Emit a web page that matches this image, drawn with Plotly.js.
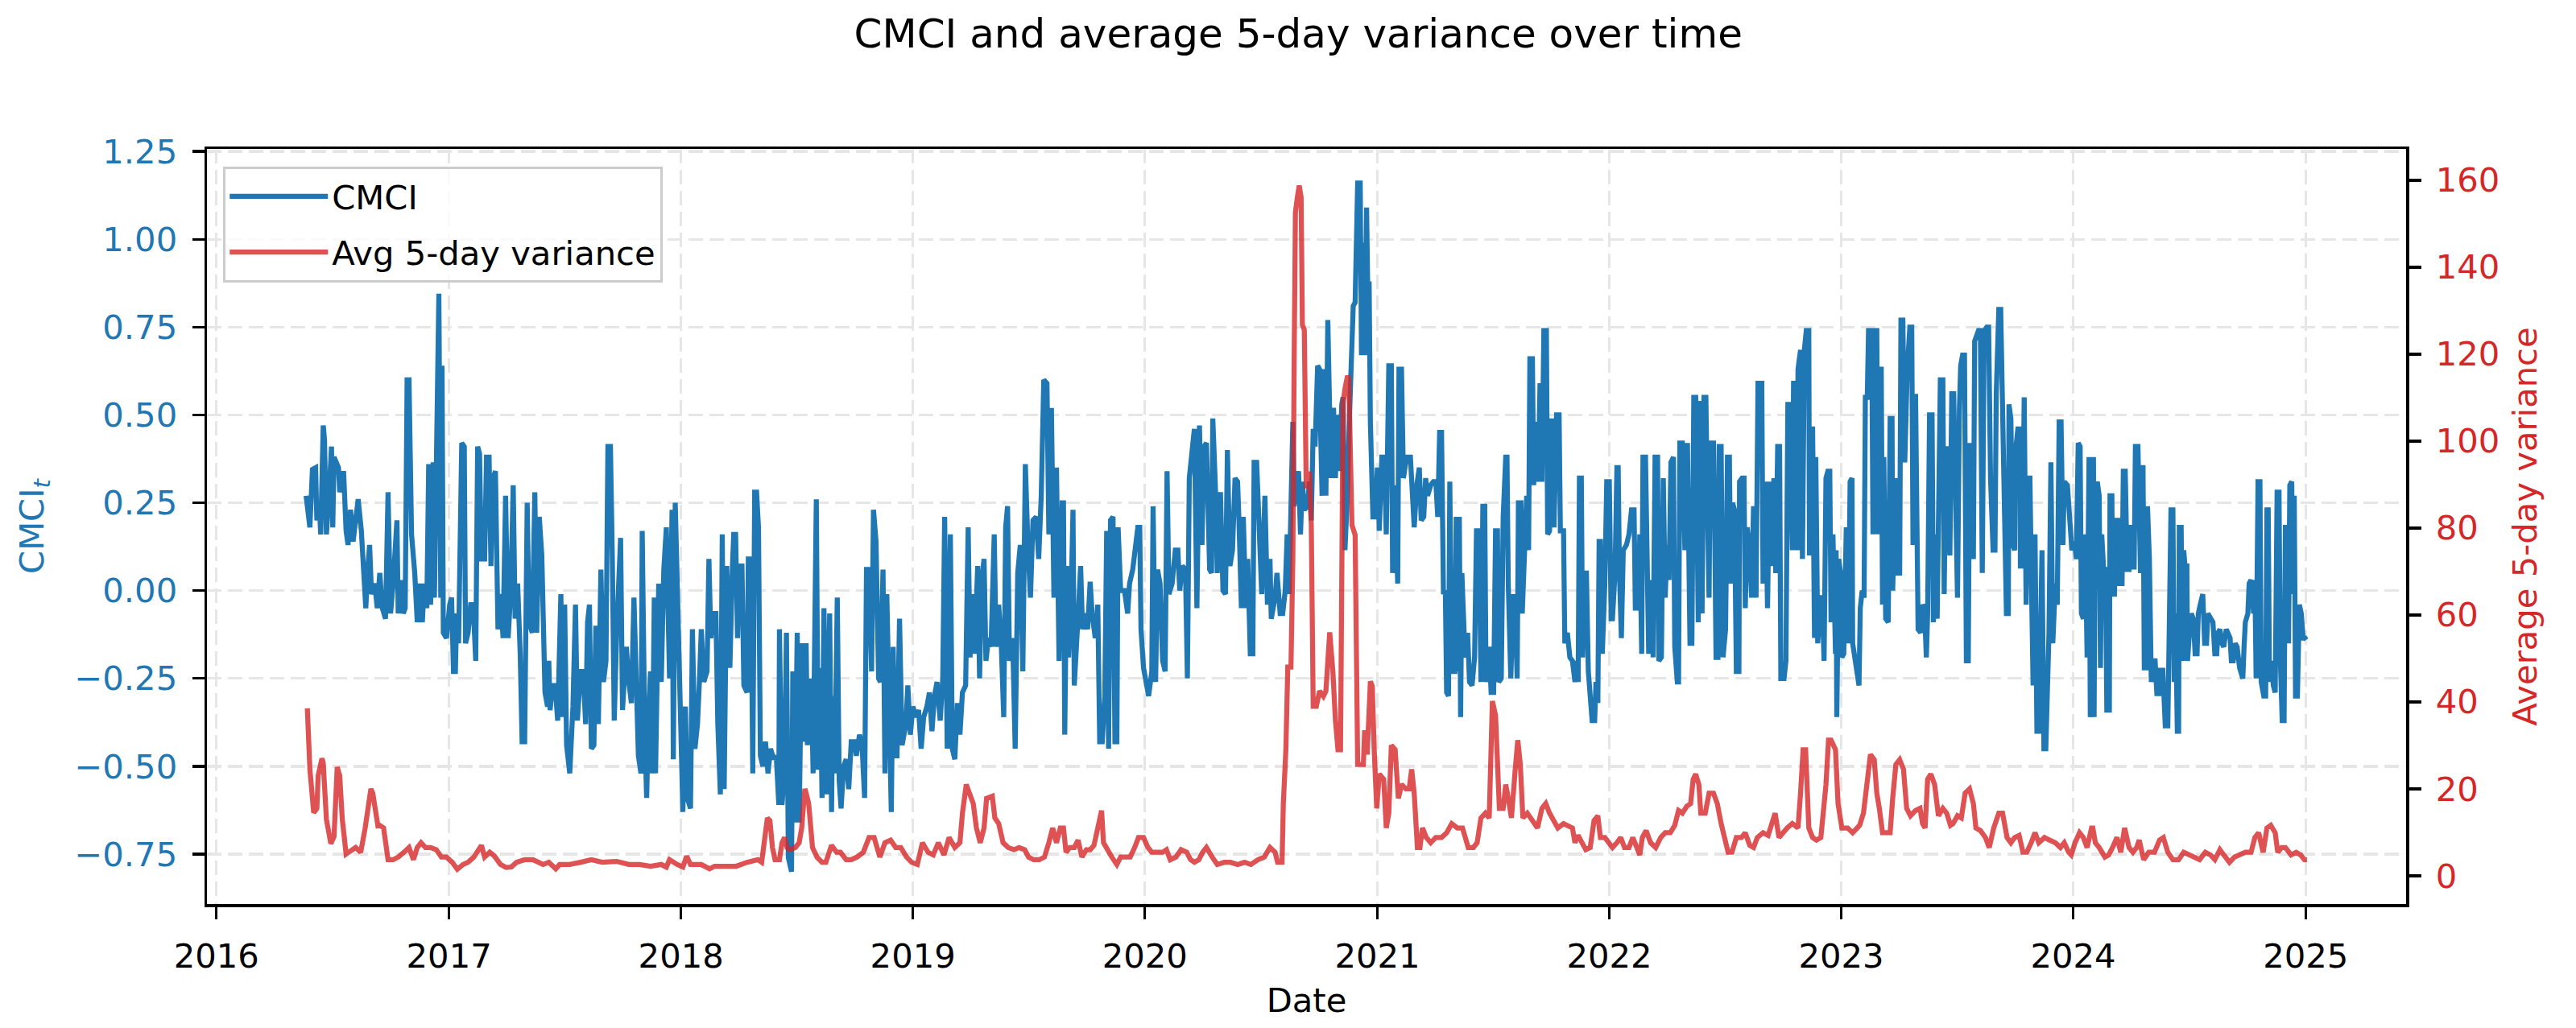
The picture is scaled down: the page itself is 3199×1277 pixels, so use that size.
<!DOCTYPE html>
<html><head><meta charset="utf-8">
<script src="https://cdn.plot.ly/plotly-3.0.1.min.js"></script>
<style>html,body{margin:0;padding:0;background:#fff}</style>
</head><body><div id="chart" style="width:3199px;height:1277px"></div>
<script>
// Data: [days since 2016-01-01, value]
const cmci2016 = [[141,0.27],[147,0.18],[151,0.345],[156,0.35],[158,0.2],[162,0.24],[164,0.16],[168,0.47],[170,0.43],[173,0.16],[177,0.27],[181,0.41],[183,0.18],[185,0.38],[192,0.35],[194,0.28],[200,0.34],[204,0.17],[207,0.13],[211,0.23],[215,0.14],[219,0.21],[223,0.26],[228,0.17],[232,0.02],[235,-0.05],[238,0.06],[241,0.13],[244,-0.01],[249,0.02],[253,-0.05],[257,0.05],[261,-0.05],[266,-0.08],[270,0.28],[274,-0.065],[278,0.02],[284,0.2],[286,-0.065],[291,0.03],[294,-0.065],[297,-0.05],[300,0.6],[303,0.6],[307,0.16],[312,0.05],[316,-0.09],[320,0.02],[324,-0.09],[327,0.02],[331,-0.05],[334,0.36],[337,-0.04],[341,0.365],[343,-0.02],[346,0.28],[350,0.845],[353,-0.02],[355,0.64],[357,-0.12],[362,-0.135],[367,-0.04],[370,-0.02],[373,-0.23],[376,-0.23],[378,-0.065],[381,-0.15],[386,0.42],[390,0.41],[392,-0.15],[396,-0.12],[400,-0.04],[404,-0.04],[408,-0.2],[411,0.41],[414,0.39],[417,0.09],[422,0.09],[425,0.38],[429,0.38],[432,0.07],[435,0.32],[439,0.34],[443,-0.11],[447,-0.01],[451,-0.135],[455,0.27],[459,-0.135],[463,-0.01],[467,0.30],[470,-0.08],[474,0.02],[478,-0.18],[481,-0.43],[485,-0.43],[489,0.25],[492,-0.09],[497,-0.12],[501,0.28],[504,-0.12],[508,0.21],[512,0.1],[517,-0.29],[521,-0.33]];
const cmci2017 = [[523,-0.2],[525,-0.34],[529,-0.27],[533,-0.27],[537,-0.37],[542,-0.01],[545,-0.36],[548,-0.04],[551,-0.44],[556,-0.52],[561,-0.33],[565,-0.04],[568,-0.37],[573,-0.23],[577,-0.23],[581,-0.38],[584,-0.09],[587,-0.04],[590,-0.45],[594,-0.44],[597,-0.1],[601,-0.38],[605,0.06],[609,-0.26],[613,-0.2],[616,0.41],[620,0.41],[623,0.09],[626,-0.37],[630,-0.11],[636,0.15],[639,-0.34],[645,-0.16],[649,-0.26],[653,-0.32],[657,-0.02],[660,-0.19],[664,-0.47],[668,-0.52],[670,0.17],[674,-0.4],[677,-0.59],[680,-0.36],[683,-0.23],[686,-0.52],[689,-0.02],[691,-0.52],[696,0.02],[700,-0.26],[704,0.06],[708,0.18],[713,-0.25],[717,0.23],[719,-0.48],[722,0.25],[725,0.02],[729,-0.37],[734,-0.63],[738,-0.33],[741,-0.59],[746,-0.62],[749,-0.11],[753,-0.45],[757,-0.38],[760,-0.26],[763,-0.11],[767,-0.26],[772,-0.23],[775,0.09],[778,-0.135],[782,-0.065],[786,-0.065],[789,-0.38],[793,-0.58],[796,0.16],[799,-0.565],[803,0.07],[808,-0.22],[812,0.07],[814,0.16],[817,0.16],[820,-0.135],[823,0.07],[827,0.07],[830,-0.27],[835,-0.29],[837,0.09],[841,0.09],[844,-0.52],[847,0.28],[850,0.28],[853,0.18],[856,-0.47],[860,-0.5],[864,-0.43],[868,-0.52],[872,-0.45],[877,-0.48],[881,-0.47],[885,-0.61],[886,-0.11],[890,-0.61],[894,-0.51],[897,-0.12],[900,-0.76],[905,-0.8],[907,-0.23],[910,-0.66],[914,-0.12],[917,-0.66],[921,-0.15],[926,-0.43]];
const cmci2018 = [[928,-0.15],[930,-0.44],[933,-0.33],[936,-0.25],[939,-0.52],[944,0.26],[947,-0.51],[950,-0.22],[953,-0.59],[956,-0.05],[961,-0.58],[965,-0.065],[968,-0.63],[970,-0.3],[973,-0.52],[977,-0.02],[980,-0.54],[983,-0.62],[987,-0.5],[991,-0.48],[995,-0.565],[999,-0.43],[1004,-0.43],[1007,-0.47],[1012,-0.41],[1016,-0.44],[1020,-0.59],[1023,0.06],[1027,0.06],[1031,-0.23],[1034,0.23],[1038,0.14],[1042,-0.25],[1045,-0.26],[1049,0.06],[1052,-0.52],[1055,-0.01],[1058,-0.26],[1062,-0.63],[1065,-0.16],[1068,-0.47],[1071,-0.47],[1075,-0.08],[1079,-0.44],[1082,-0.4],[1085,-0.38],[1088,-0.27],[1092,-0.41],[1096,-0.33],[1101,-0.36],[1105,-0.34],[1109,-0.45],[1113,-0.36],[1118,-0.33],[1122,-0.29],[1126,-0.4],[1130,-0.3],[1134,-0.26],[1139,-0.37],[1143,-0.25],[1146,0.21],[1150,-0.45],[1155,0.16],[1158,-0.45],[1162,-0.48],[1166,-0.32],[1170,-0.41],[1174,-0.29],[1179,-0.27],[1183,0.18],[1186,-0.19],[1189,-0.01],[1193,-0.18],[1198,0.07],[1201,-0.25],[1204,0.02],[1208,0.09],[1211,-0.2],[1215,-0.135],[1219,-0.16],[1224,0.16],[1227,-0.16],[1231,-0.04],[1235,-0.15],[1239,-0.36],[1242,0.18],[1245,0.24],[1248,-0.2],[1253,-0.135],[1257,-0.45],[1261,0.05],[1265,0.13],[1269,-0.23],[1273,0.36],[1277,0.13],[1281,-0.02],[1285,0.2],[1290,0.21],[1294,0.09],[1298,0.27],[1302,0.6],[1307,0.59],[1310,0.16],[1314,0.52],[1318,-0.02],[1322,0.35],[1326,-0.2],[1331,0.25]];
const cmci2019 = [[1333,0.25],[1335,-0.41],[1338,0.07],[1341,-0.19],[1345,-0.02],[1348,0.23],[1350,-0.27],[1354,-0.16],[1357,-0.04],[1360,0.07],[1363,-0.11],[1367,-0.065],[1371,-0.11],[1375,0.025],[1378,-0.065],[1383,-0.135],[1387,-0.04],[1390,-0.43],[1394,-0.43],[1398,-0.3],[1401,0.17],[1404,-0.45],[1407,0.2],[1411,0.21],[1414,-0.43],[1417,-0.43],[1419,0.18],[1423,0.0],[1429,0.0],[1434,-0.065],[1437,0.02],[1442,0.06],[1446,0.13],[1450,0.18],[1453,0.18],[1455,-0.11],[1459,-0.22],[1464,-0.26],[1467,-0.3],[1472,-0.23],[1474,0.24],[1478,-0.26],[1481,0.06],[1485,0.02],[1489,-0.2],[1493,-0.23],[1496,0.34],[1499,-0.01],[1504,0.02],[1509,0.115],[1513,0.115],[1516,0.0],[1520,0.07],[1525,0.06],[1528,-0.25],[1531,0.32],[1534,0.38],[1539,0.46],[1543,-0.05],[1547,0.47],[1551,0.13],[1554,0.41],[1558,0.42],[1563,0.06],[1566,0.05],[1568,0.49],[1572,0.30],[1575,0.05],[1580,0.28],[1584,0.0],[1588,-0.01],[1591,0.4],[1595,0.07],[1599,0.115],[1603,0.32],[1607,0.31],[1609,0.21],[1613,-0.05],[1616,0.21],[1620,-0.05],[1623,0.09],[1627,-0.18],[1631,-0.18],[1633,0.365],[1637,0.365],[1642,0.16],[1645,-0.01],[1650,0.27],[1654,-0.04],[1658,0.09],[1660,-0.08],[1666,-0.02],[1669,0.05],[1674,-0.065],[1678,-0.065],[1682,0.0],[1685,0.16],[1688,-0.01],[1691,0.2],[1694,0.48],[1696,0.24],[1700,0.30],[1703,0.34],[1706,0.16],[1709,0.31],[1712,0.23],[1717,0.24],[1720,0.31],[1723,0.2],[1726,0.46],[1729,0.41],[1733,0.64],[1736,0.63]];
const cmci2020 = [[1738,0.43],[1740,0.27],[1743,0.63],[1746,0.27],[1749,0.77],[1752,0.49],[1754,0.32],[1758,0.52],[1761,0.32],[1764,0.5],[1767,0.34],[1771,0.53],[1773,0.55],[1776,0.115],[1780,0.28],[1783,0.49],[1786,0.67],[1789,0.81],[1792,0.82],[1796,1.16],[1800,1.16],[1802,0.67],[1804,0.99],[1807,0.67],[1810,1.09],[1813,0.71],[1814,0.88],[1816,0.48],[1820,0.21],[1824,0.21],[1827,0.35],[1830,0.17],[1834,0.38],[1838,0.38],[1841,0.16],[1845,0.64],[1849,0.64],[1851,0.05],[1855,0.30],[1859,0.02],[1861,0.63],[1865,0.63],[1868,0.32],[1873,0.38],[1879,0.38],[1881,0.31],[1885,0.18],[1889,0.30],[1893,0.35],[1896,0.2],[1900,0.21],[1903,0.32],[1906,0.27],[1911,0.30],[1915,0.31],[1919,0.31],[1922,0.21],[1925,0.45],[1928,0.45],[1931,-0.01],[1934,0.0],[1936,-0.29],[1939,-0.3],[1941,0.31],[1944,-0.23],[1949,-0.23],[1951,0.21],[1954,-0.23],[1956,0.21],[1958,-0.36],[1960,0.05],[1965,-0.19],[1969,-0.12],[1972,-0.26],[1976,-0.27],[1980,-0.19],[1983,0.17],[1987,0.17],[1990,-0.26],[1993,0.24],[1996,0.24],[1998,-0.26],[2003,-0.16],[2006,-0.29],[2010,-0.29],[2013,0.17],[2016,0.17],[2018,-0.26],[2022,-0.25],[2025,0.21],[2029,0.38],[2031,0.38],[2033,0.02],[2037,-0.25],[2041,-0.01],[2044,-0.065],[2047,-0.25],[2049,0.25],[2053,0.25],[2055,-0.065],[2058,0.115],[2062,0.27],[2065,0.115],[2067,0.66],[2071,0.66],[2073,0.30],[2077,0.48],[2080,0.31],[2083,0.59],[2086,0.31],[2089,0.74],[2093,0.74],[2095,0.16],[2098,0.17],[2101,0.49],[2105,0.18],[2109,0.5],[2113,0.5],[2115,0.17],[2120,0.17],[2122,-0.15],[2126,-0.12],[2130,-0.19],[2134,-0.2],[2138,-0.26],[2141,-0.2]];
const cmci2021 = [[2143,-0.26],[2145,0.32],[2148,0.32],[2150,-0.19],[2153,0.05],[2156,0.05],[2159,-0.23],[2162,-0.32],[2165,-0.37],[2169,-0.37],[2171,-0.26],[2174,-0.32],[2176,0.14],[2178,0.14],[2181,-0.18],[2185,0.02],[2188,0.31],[2192,0.31],[2195,-0.08],[2197,-0.08],[2201,0.05],[2204,0.35],[2206,0.35],[2208,0.05],[2211,-0.135],[2214,0.115],[2219,0.13],[2223,0.16],[2227,0.23],[2231,0.23],[2233,-0.05],[2238,-0.05],[2240,0.16],[2243,-0.18],[2245,0.38],[2249,0.38],[2252,-0.16],[2254,-0.18],[2257,0.03],[2261,-0.19],[2264,0.38],[2268,0.38],[2270,-0.2],[2274,-0.19],[2277,0.32],[2280,-0.02],[2283,0.13],[2286,0.03],[2289,0.365],[2293,0.38],[2295,-0.16],[2299,-0.26],[2301,-0.26],[2303,0.42],[2307,0.42],[2311,0.115],[2315,0.42],[2319,-0.15],[2322,-0.15],[2325,0.55],[2328,0.55],[2332,-0.09],[2335,0.54],[2338,-0.065],[2341,0.55],[2344,0.55],[2346,0.30],[2349,-0.02],[2351,0.42],[2356,0.42],[2358,0.16],[2360,-0.19],[2363,-0.19],[2365,0.41],[2368,0.41],[2371,-0.19],[2375,-0.11],[2378,0.38],[2381,0.38],[2383,0.02],[2386,0.25],[2389,0.23],[2392,-0.23],[2396,-0.23],[2397,0.31],[2401,0.32],[2404,0.32],[2406,-0.05],[2409,0.18],[2413,0.115],[2416,-0.02],[2419,0.24],[2423,-0.02],[2426,0.59],[2432,0.59],[2434,0.02],[2438,0.31],[2441,-0.05],[2444,0.31],[2447,0.07],[2451,0.32],[2454,0.05],[2457,0.41],[2460,0.41],[2462,-0.25],[2467,-0.25],[2470,-0.2],[2473,0.53],[2476,0.53],[2480,0.115],[2482,0.59],[2485,0.59],[2488,0.115],[2489,0.63],[2493,0.685],[2496,0.09],[2499,0.685],[2502,0.74],[2506,0.74],[2507,0.1],[2509,0.46],[2512,0.46],[2515,-0.135],[2517,0.38],[2520,-0.15],[2525,-0.02],[2527,-0.02],[2530,-0.2],[2533,0.32],[2536,0.34],[2539,0.34],[2541,-0.09],[2544,0.16],[2548,-0.18]];
const cmci2023 = [[2549,0.115],[2550,-0.36],[2553,0.09],[2556,0.05],[2558,-0.19],[2561,-0.18],[2565,0.18],[2568,-0.15],[2571,0.31],[2574,0.32],[2575,-0.15],[2578,-0.19],[2581,-0.23],[2585,-0.27],[2587,-0.05],[2590,0.0],[2593,-0.02],[2595,0.55],[2598,0.55],[2600,0.74],[2605,0.74],[2607,0.16],[2610,0.74],[2613,0.74],[2615,0.16],[2617,0.63],[2620,0.63],[2622,-0.04],[2624,0.38],[2627,-0.08],[2631,-0.09],[2634,0.49],[2637,0.49],[2638,0.0],[2641,0.2],[2644,0.32],[2646,0.05],[2649,0.05],[2651,0.77],[2654,0.77],[2657,0.365],[2661,0.63],[2665,0.75],[2668,0.75],[2670,0.13],[2674,0.56],[2678,-0.11],[2682,-0.12],[2685,-0.04],[2688,-0.05],[2691,-0.19],[2693,-0.065],[2696,0.5],[2700,0.5],[2702,-0.09],[2705,0.16],[2708,-0.08],[2710,0.35],[2713,0.6],[2717,0.6],[2719,-0.01],[2722,0.39],[2725,0.41],[2728,0.1],[2731,0.56],[2734,0.56],[2737,0.24],[2740,-0.02],[2743,0.52],[2745,0.64],[2748,0.67],[2751,0.67],[2754,-0.2],[2757,-0.2],[2759,0.42],[2762,0.27],[2765,0.09],[2767,0.71],[2771,0.73],[2773,0.74],[2776,0.74],[2779,0.05],[2782,0.74],[2786,0.75],[2789,0.75],[2792,0.32],[2796,0.115],[2799,0.115],[2801,0.56],[2805,0.8],[2808,0.8],[2810,0.57],[2814,0.27],[2817,-0.065],[2820,-0.065],[2821,0.53],[2824,0.49],[2827,0.13],[2830,0.115],[2831,0.39],[2835,0.46],[2838,0.46],[2839,0.07],[2842,0.07],[2845,0.55],[2848,-0.04],[2851,0.32],[2854,0.32],[2856,0.07],[2859,-0.27],[2862,0.16],[2865,-0.4],[2868,-0.4],[2873,0.115],[2876,-0.45],[2879,-0.45],[2881,-0.315],[2884,-0.12],[2887,0.365],[2890,-0.15],[2894,0.02],[2897,-0.04],[2900,0.48],[2903,0.48],[2906,0.13],[2908,0.31],[2913,0.30],[2917,0.2],[2920,0.115],[2924,0.14],[2927,0.09],[2930,0.42],[2933,0.41],[2935,-0.065],[2938,-0.08],[2941,0.16],[2944,-0.19],[2947,0.38],[2949,-0.36],[2953,-0.16]];
const cmci2024 = [[2954,0.38],[2955,-0.36],[2957,0.30],[2960,0.31],[2963,0.27],[2965,-0.22],[2967,0.16],[2970,0.06],[2973,0.06],[2975,-0.34],[2979,-0.34],[2980,0.27],[2983,0.27],[2984,-0.01],[2987,-0.01],[2990,0.2],[2994,0.2],[2995,0.02],[2999,0.02],[3001,0.34],[3004,0.34],[3007,0.06],[3010,0.06],[3012,0.18],[3016,0.18],[3018,0.06],[3020,0.41],[3024,0.41],[3028,0.05],[3029,0.35],[3032,0.35],[3034,-0.22],[3037,-0.22],[3039,0.24],[3042,0.09],[3045,-0.26],[3048,-0.2],[3051,-0.2],[3054,-0.3],[3057,-0.22],[3060,-0.3],[3063,-0.22],[3067,-0.385],[3071,-0.385],[3073,0.02],[3076,0.23],[3079,0.23],[3081,-0.26],[3083,-0.065],[3086,-0.4],[3088,-0.4],[3089,0.18],[3092,0.18],[3094,-0.2],[3096,0.115],[3098,0.07],[3101,0.07],[3102,-0.2],[3105,-0.12],[3108,-0.065],[3111,-0.08],[3114,-0.18],[3117,-0.18],[3119,-0.065],[3122,-0.04],[3126,-0.01],[3129,-0.15],[3132,-0.15],[3134,-0.065],[3138,-0.08],[3142,-0.09],[3145,-0.18],[3148,-0.18],[3150,-0.12],[3153,-0.11],[3156,-0.15],[3159,-0.16],[3163,-0.11],[3166,-0.12],[3169,-0.135],[3171,-0.2],[3174,-0.2],[3177,-0.15],[3180,-0.16],[3184,-0.22],[3187,-0.25],[3189,-0.25],[3191,-0.16],[3193,-0.09],[3197,-0.065],[3199,0.02],[3202,0.03],[3206,-0.065],[3208,0.03],[3210,-0.25],[3213,0.31],[3216,0.31],[3218,-0.26],[3222,-0.3],[3225,-0.3],[3227,0.23],[3229,0.23],[3231,-0.26],[3233,-0.2],[3235,-0.22],[3237,-0.27],[3240,-0.29],[3243,0.28],[3246,0.28],[3248,-0.19],[3251,-0.37],[3254,-0.37],[3256,0.18],[3259,0.18],[3261,-0.15],[3263,0.30],[3266,0.31],[3268,-0.01],[3270,0.27],[3272,-0.3],[3275,-0.3],[3278,-0.04],[3281,-0.065],[3284,-0.135],[3287,-0.135],[3289,-0.14]];

const var2016 = [[143,38.5],[147,24.5],[153,14.5],[158,15.5],[160,23],[166,27],[168,26],[173,13],[180,7.4],[185,9],[190,25],[194,23],[198,13],[204,5],[208,5.4],[219,6.5],[227,5.4],[234,11],[243,20],[246,19],[254,11.5],[257,11.6],[263,11],[270,3.7],[278,3.7],[286,4.3],[295,5.4],[303,6.5],[310,3.7],[316,6.5],[322,7.6],[329,6.5],[337,6.5],[346,6],[354,4.3],[362,4.3],[371,3.1],[379,1.5],[388,2.6],[396,3.1],[405,4.3],[413,6],[417,7],[422,4.3],[430,5.4],[437,4.6],[447,2.6],[456,1.9],[464,2],[472,3.1],[485,3.7],[498,3.7],[506,3.1],[514,2.6],[523,3.1]];
const var2017 = [[534,1.6],[540,2.6],[556,2.6],[573,3.1],[590,3.7],[607,3.1],[630,3.3],[649,2.6],[666,2.6],[683,2.2],[700,2.6],[708,2.0],[713,3.7],[725,2.6],[734,2],[740,4.5],[746,2.6],[763,2.6],[776,1.6],[784,2.2],[801,2.2],[818,2.2],[835,3.1],[852,3.7],[858,3.1],[862,8.8],[867,13.3],[871,12.7],[875,6.5],[879,3.7],[886,3.7],[890,7.6],[894,8.8],[898,6.5],[902,6],[911,6.5],[917,7.6],[921,11],[926,20]];
const var2018 = [[928,19],[932,16.6],[938,6.5],[945,4.3],[953,3.1],[959,3.1],[968,7],[976,5.4],[982,5.4],[991,3.7],[999,3.7],[1008,4.3],[1018,5.4],[1027,8.8],[1035,8.8],[1044,4.3],[1052,7.6],[1061,8.2],[1069,6.5],[1077,6.5],[1086,4.3],[1094,3.1],[1103,2.6],[1111,7.6],[1120,5.4],[1128,4.8],[1136,7.6],[1145,4.8],[1153,8.8],[1162,6.5],[1170,7.6],[1174,14.4],[1180,21],[1185,19],[1191,16.6],[1196,11],[1202,7.6],[1208,11],[1212,17.8],[1221,18.3],[1225,13.3],[1231,12],[1238,7.6],[1246,6.5],[1255,6],[1263,6.5],[1272,6],[1278,4.3],[1286,3.7],[1295,3.7],[1303,4.3],[1310,7.6],[1316,11],[1322,7.6],[1328,11]];
const var2019 = [[1333,11],[1337,5.4],[1343,6.5],[1350,6.5],[1356,8.2],[1362,4.3],[1369,6],[1375,6],[1381,7],[1388,11],[1393,15],[1396,7.6],[1402,6],[1409,4.3],[1417,2.6],[1423,4.3],[1430,4.3],[1438,4.3],[1445,6.5],[1451,8.8],[1459,8.8],[1466,6.5],[1472,5.4],[1480,5.4],[1489,5.4],[1495,6],[1501,3.7],[1510,4.3],[1518,6],[1527,5.4],[1533,3.7],[1539,3.1],[1546,3.7],[1552,5.4],[1558,6.5],[1567,4.3],[1575,2.6],[1586,3.1],[1596,3.1],[1607,2.6],[1618,3.1],[1628,2.6],[1639,3.7],[1649,4.3],[1658,6.5],[1666,5.4],[1670,3.1],[1677,3.1],[1679,16.6],[1683,29],[1686,48],[1691,48],[1694,72.8],[1696,117.8],[1698,152.6],[1701,156],[1704,158.8],[1707,156],[1709,126.7],[1712,125.6],[1715,89.7],[1718,89.7],[1720,93],[1723,80.7],[1726,39],[1731,39],[1736,42.5]];
const var2020 = [[1742,41.3],[1746,42.5],[1752,56],[1757,47],[1761,35.7],[1765,29],[1769,29],[1771,75],[1773,108.8],[1776,112],[1780,115],[1782,114.4],[1785,90.8],[1787,80.7],[1792,78.4],[1793,56],[1796,25.6],[1801,25.6],[1805,25.6],[1807,33.5],[1811,27.9],[1816,44.7],[1819,43.6],[1822,29],[1826,15.5],[1830,23.4],[1837,22.2],[1841,11],[1845,14.4],[1849,30],[1855,29],[1860,17.8],[1865,21],[1872,20],[1877,20],[1881,24.5],[1885,18.9],[1890,6.5],[1894,6.5],[1898,11],[1904,8.8],[1911,7.6],[1919,8.8],[1928,8.8],[1936,9.9],[1944,12],[1953,11],[1961,11],[1970,6.5],[1978,6.5],[1984,7.6],[1990,13.3],[1997,14.4],[2003,13.3],[2008,40.2],[2013,36.9],[2016,26.7],[2019,15.5],[2025,15.5],[2029,21],[2033,17.8],[2038,13.3],[2044,24.5],[2048,31.2],[2052,25.6],[2056,13.3],[2063,14.4],[2071,12.5],[2079,11],[2086,15.5],[2092,16.6],[2098,14.4],[2105,12.7],[2111,11],[2120,12],[2128,11.6],[2134,11],[2138,7.6]];
const var2021 = [[2143,9.3],[2149,7.6],[2155,6],[2162,6.5],[2168,12.7],[2174,13.8],[2178,8.8],[2185,8.8],[2191,7.6],[2197,6.5],[2204,7.6],[2210,8.8],[2216,6.5],[2223,6.5],[2229,8.8],[2235,6.5],[2240,4.8],[2244,8.8],[2250,10.4],[2257,7.6],[2265,6.5],[2273,8.8],[2280,9.9],[2288,9.9],[2295,11.6],[2301,15],[2307,14.4],[2314,16],[2320,16.6],[2324,22.2],[2328,23.4],[2333,21],[2336,14.4],[2343,14.4],[2349,19],[2356,19],[2362,16.6],[2368,12],[2373,8.8],[2379,5.4],[2385,5.4],[2392,8.8],[2400,8.8],[2406,9.9],[2413,7],[2419,6.5],[2425,8.8],[2434,9.9],[2442,9.3],[2446,11],[2453,14.4],[2459,8.8],[2465,9.9],[2472,11],[2480,12],[2489,11],[2493,19],[2497,29],[2501,29],[2506,11],[2512,8.8],[2518,8.2],[2525,8.8],[2529,14.4],[2533,21],[2537,31.2],[2541,31.2]];
const var2023 = [[2548,29],[2552,16.6],[2558,11],[2567,11],[2575,9.9],[2586,11.6],[2592,14.4],[2598,22.2],[2603,27.9],[2609,26.7],[2613,19],[2617,15.5],[2622,9.9],[2628,9.9],[2634,9.9],[2638,17.8],[2643,25.6],[2649,26.7],[2655,24.5],[2660,15.5],[2666,13.8],[2674,15],[2681,15.5],[2685,12],[2689,11],[2693,22.2],[2698,23.4],[2704,21],[2710,13.8],[2717,15.5],[2723,14.4],[2729,11.6],[2733,12],[2740,13.8],[2746,13.3],[2752,19],[2759,20],[2765,16.6],[2769,11],[2776,10.4],[2784,8.8],[2790,6.5],[2797,11],[2805,14.4],[2811,14.4],[2818,8.8],[2824,7.6],[2830,8.8],[2837,9.3],[2843,5.4],[2849,5.4],[2856,7.6],[2862,9.9],[2868,7.6],[2877,8.8],[2885,8.2],[2894,7.6],[2902,6.5],[2908,7.6],[2915,5.4],[2919,4.8],[2925,7.6],[2932,9.9],[2938,8.8],[2944,6.5],[2951,11]];
const var2024 = [[2953,11],[2957,7.6],[2963,6.5],[2972,4.3],[2978,4.8],[2984,6.5],[2991,8.8],[2997,5.4],[3003,11],[3010,6.5],[3016,5.4],[3022,6.5],[3026,8.2],[3033,3.7],[3041,5.4],[3050,5.4],[3058,8.2],[3064,8.8],[3071,5.4],[3079,3.7],[3088,3.7],[3096,5.4],[3105,4.8],[3113,4.3],[3121,3.7],[3130,5.4],[3138,4.8],[3145,3.7],[3153,6],[3159,4.8],[3168,3.1],[3176,4.3],[3185,4.8],[3193,5.4],[3202,5.4],[3208,8.8],[3214,9.9],[3221,5.4],[3227,11],[3233,11.6],[3240,9.9],[3244,5.4],[3250,6.5],[3256,6.5],[3265,4.8],[3273,5.4],[3280,4.8],[3286,3.7],[3290,3.7]];

const tickYears = ['2016','2017','2018','2019','2020','2021','2022','2023','2024','2025'];
const titleText = 'CMCI and average 5-day variance over time';
const cmciLabel = 'CMCI';
const varLabel = 'Avg 5-day variance';

const BLUE = '#1f77b4', RED = '#d62728';
const FONT = 'DejaVu Sans, sans-serif';
const DAY0 = Date.UTC(2016, 0, 1);
function toDate(d) { return new Date(DAY0 + d * 864e5).toISOString().slice(0, 10); }
function build(segs) {
  const pts = [].concat(...segs).sort((a, b) => a[0] - b[0]);
  return { x: pts.map(p => toDate(p[0])), y: pts.map(p => p[1]) };
}
const cmci = build([cmci2016, cmci2017, cmci2018, cmci2019, cmci2020, cmci2021, cmci2023, cmci2024]);
const vari = build([var2016, var2017, var2018, var2019, var2020, var2021, var2023, var2024]);

const traces = [
  { x: cmci.x, y: cmci.y, type: 'scatter', mode: 'lines', name: cmciLabel, yaxis: 'y',
    line: { color: BLUE, width: 6.25 }, legendgroup: 'a' },
  { x: vari.x, y: vari.y, type: 'scatter', mode: 'lines', name: varLabel, yaxis: 'y2',
    line: { color: RED, width: 6.25 }, opacity: 0.8, legendgroup: 'b' }
];

const axisCommon = {
  ticks: 'outside', ticklen: 15, tickwidth: 3.3, tickcolor: '#000',
  showline: true, linecolor: '#000', linewidth: 3.5, zeroline: false,
  tickfont: { family: FONT, size: 41.7 }
};

const layout = {
  width: 3199, height: 1277,
  margin: { l: 257, r: 211, t: 185, b: 154, pad: 0 },
  paper_bgcolor: '#ffffff', plot_bgcolor: '#ffffff',
  font: { family: FONT, size: 41.7, color: '#000' },
  showlegend: true,
  title: { text: titleText, font: { family: FONT, size: 50, color: '#000' },
           x: 0.504, xref: 'container', xanchor: 'center', y: 1 - 41 / 1277, yref: 'container', yanchor: 'middle' },
  xaxis: Object.assign({}, axisCommon, {
    type: 'date', range: ['2015-12-17', '2025-06-08'],
    tickmode: 'array', tickvals: tickYears.map(y => y + '-01-01'), ticktext: tickYears,
    mirror: true, showgrid: true, gridcolor: '#e6e6e6', gridwidth: 3.3, griddash: '18px,8px',
    ticklabelstandoff: 10,
    title: { text: 'Date', font: { family: FONT, size: 41.7, color: '#000' }, standoff: 18 }
  }),
  yaxis: Object.assign({}, axisCommon, {
    range: [-0.892, 1.257], tick0: 0, dtick: 0.25, tickformat: '.2f',
    tickfont: { family: FONT, size: 41.7, color: BLUE },
    showgrid: true, gridcolor: '#e6e6e6', gridwidth: 3.3, griddash: '18px,8px',
    ticklabelstandoff: 10,
    title: { text: 'CMCI<sub><i>t</i></sub>', font: { family: FONT, size: 41.7, color: BLUE }, standoff: 26 }
  }),
  yaxis2: Object.assign({}, axisCommon, {
    overlaying: 'y', side: 'right', anchor: 'x',
    range: [-6.5, 167.2], tick0: 0, dtick: 20, showgrid: false,
    tickfont: { family: FONT, size: 41.7, color: RED },
    ticklabelstandoff: 10,
    title: { text: 'Average 5-day variance', font: { family: FONT, size: 41.7, color: RED }, standoff: 18 }
  }),
  legend: {
    x: 0.0073, y: 0.9765, xanchor: 'left', yanchor: 'top',
    bgcolor: 'rgba(255,255,255,0.8)', bordercolor: '#cccccc', borderwidth: 3.3,
    font: { family: FONT, size: 41.7, color: '#000' },
    traceorder: 'grouped', tracegroupgap: 12, itemwidth: 122
  }
};

Plotly.newPlot('chart', traces, layout, { staticPlot: true, displayModeBar: false });
</script>
</body></html>
